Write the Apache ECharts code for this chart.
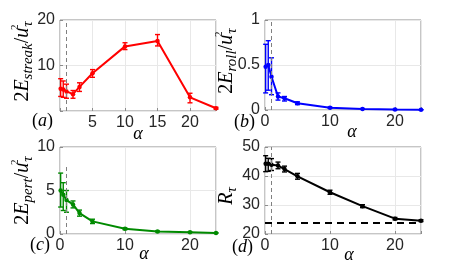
<!DOCTYPE html>
<html><head><meta charset="utf-8">
<script src="https://cdn.jsdelivr.net/npm/echarts@6/dist/echarts.min.js"></script>
<style>html,body{margin:0;padding:0;background:#fff}#c{width:465px;height:266px}</style>
</head><body><div id="c"></div>
<script>
// ---- data ----
const alpha = [0.1, 0.5, 1, 2, 3, 5, 10, 15, 20, 24];
const streak   = [4.9, 4.7, 4.3, 3.7, 5.3, 8.3, 14.2, 15.4, 3.0, 0.6];
const streakLo = [3.2, 3.0, 2.8, 2.8, 4.3, 7.4, 13.5, 14.3, 1.8, 0.4];
const streakHi = [7.1, 6.6, 5.9, 4.5, 6.2, 9.1, 15.0, 16.8, 3.9, 0.8];
const roll   = [0.48, 0.50, 0.37, 0.15, 0.13, 0.075, 0.026, 0.012, 0.005, 0.003];
const rollLo = [0.19, 0.22, 0.17, 0.11, 0.10, 0.06, 0.02, 0.008, 0.003, 0.002];
const rollHi = [0.73, 0.77, 0.58, 0.19, 0.15, 0.09, 0.032, 0.016, 0.007, 0.004];
const pert   = [5.0, 4.5, 3.9, 3.4, 2.4, 1.45, 0.6, 0.3, 0.2, 0.12];
const pertLo = [3.1, 2.7, 2.5, 3.0, 2.05, 1.2, 0.5, 0.25, 0.17, 0.1];
const pertHi = [7.0, 5.9, 5.0, 3.8, 2.75, 1.7, 0.7, 0.35, 0.23, 0.14];
const reTau   = [44.2, 44.2, 43.9, 43.6, 42.4, 39.9, 34.4, 29.6, 25.3, 24.6];
const reTauLo = [41.5, 41.6, 41.9, 42.5, 41.4, 38.9, 33.7, 29.1, 24.9, 24.3];
const reTauHi = [47.0, 46.1, 46.0, 44.8, 43.4, 40.9, 35.1, 30.1, 25.7, 24.9];
const reTauRef = 24;
const alphaMark = 1;
const pertMarkTop = 8;

// ---- helpers ----
const SERIF = 'Liberation Serif';
const SANS = 'Liberation Sans';
const rich = {
  n: {fontFamily: SERIF, fontSize: 20, fontStyle: 'normal', color: '#000', lineHeight: 26},
  i: {fontFamily: SERIF, fontSize: 20, fontStyle: 'italic', color: '#000', lineHeight: 26},
  s: {fontFamily: SERIF, fontSize: 15, fontStyle: 'italic', color: '#000', verticalAlign: 'bottom', lineHeight: 14},
  p: {fontFamily: SERIF, fontSize: 11, fontStyle: 'normal', color: '#000', verticalAlign: 'top', lineHeight: 12, width: 1}
};
function eLabel(sub) { return '{n|2}{i|E}{s|' + sub + '}{n|/}{i|u}{p|2}{s|τ}'; }

function errItem(color) {
  return function (params, api) {
    const x = api.value(0), lo = api.value(1), hi = api.value(2);
    const p1 = api.coord([x, lo]), p2 = api.coord([x, hi]);
    const w = 2.5;
    const style = {stroke: color, lineWidth: 1.4, fill: null};
    return {type: 'group', children: [
      {type: 'line', shape: {x1: p1[0], y1: p1[1], x2: p2[0], y2: p2[1]}, style: style},
      {type: 'line', shape: {x1: p1[0] - w, y1: p1[1], x2: p1[0] + w, y2: p1[1]}, style: style},
      {type: 'line', shape: {x1: p2[0] - w, y1: p2[1], x2: p2[0] + w, y2: p2[1]}, style: style}
    ]};
  };
}
const zip2 = (a, b) => a.map((v, i) => [v, b[i]]);
const zip3 = (a, b, c) => a.map((v, i) => [v, b[i], c[i]]);

const BOX = '#8c8c8c', GRIDC = '#e8e8e8', TXT = '#262626';
const grids = [
  {left: 60, top: 20, width: 156, height: 91},
  {left: 265, top: 20, width: 156, height: 90},
  {left: 60, top: 147, width: 156, height: 87},
  {left: 265, top: 147, width: 156, height: 87}
].map(g => Object.assign(g, {show: true, borderColor: BOX, borderWidth: 1, containLabel: false, outerBoundsMode: 'none'}));

function xAxis(idx, interval, hideZero, gap, shift) {
  return {
    type: 'value', gridIndex: idx, min: 0, max: 24, interval: interval,
    name: 'α', nameLocation: 'middle', nameGap: gap, nameMoveOverlap: false,
    nameTextStyle: {fontFamily: SERIF, fontStyle: 'italic', fontSize: 18, color: '#000', padding: [0, 0, 0, shift]},
    axisLine: {show: false},
    axisTick: {show: true, inside: true, length: 3, lineStyle: {color: BOX}},
    axisLabel: {fontFamily: SANS, fontSize: 16, color: TXT, margin: 4,
      formatter: v => ((hideZero && v === 0) || v % interval !== 0) ? '' : String(v)},
    splitLine: {show: true, lineStyle: {color: GRIDC, width: 1}}
  };
}
function yAxis(idx, min, max, interval, hideZero, name, gap, pad) {
  return {
    type: 'value', gridIndex: idx, min: min, max: max, interval: interval,
    name: name, nameLocation: 'middle', nameRotate: 90, nameGap: gap, nameMoveOverlap: false,
    nameTextStyle: {rich: rich, padding: pad},
    axisLine: {show: false},
    axisTick: {show: true, inside: true, length: 3, lineStyle: {color: BOX}},
    axisLabel: {fontFamily: SANS, fontSize: 16, color: TXT, margin: 5,
      formatter: v => (hideZero && v === 0) ? '' : String(v)},
    splitLine: {show: true, lineStyle: {color: GRIDC, width: 1}}
  };
}

const vMark = {silent: true, symbol: ['none', 'none'], label: {show: false},
  lineStyle: {color: '#808080', type: [4, 3], width: 1}, data: [{xAxis: alphaMark}]};

function panel(idx, color, ys, lo, hi, mark) {
  return [
    {type: 'custom', xAxisIndex: idx, yAxisIndex: idx, renderItem: errItem(color),
      data: zip3(alpha, lo, hi), encode: {x: 0, y: [1, 2]}, z: 3, silent: true},
    {type: 'line', xAxisIndex: idx, yAxisIndex: idx, data: zip2(alpha, ys),
      symbol: 'circle', symbolSize: 4.5, showSymbol: true,
      lineStyle: {color: color, width: 2}, itemStyle: {color: color}, z: 4, silent: true,
      markLine: mark}
  ];
}

const labelRich = {
  n: {fontFamily: SERIF, fontSize: 18, fontStyle: 'normal', fill: '#000'},
  i: {fontFamily: SERIF, fontSize: 18, fontStyle: 'italic', fill: '#000'}
};
function pLabel(ch, x, y) {
  return {type: 'text', left: x, top: y, silent: true,
    style: {text: '{n|(}{i|' + ch + '}{n|)}', rich: labelRich, fill: '#000'}};
}

const chart = echarts.init(document.getElementById('c'), null, {renderer: 'canvas'});
chart.setOption({
  animation: false,
  backgroundColor: '#fff',
  grid: grids,
  xAxis: [
    xAxis(0, 5, true, 14, 0),
    xAxis(1, 10, false, 13, 18),
    xAxis(2, 10, false, 11, 12),
    xAxis(3, 10, false, 12, 12)
  ],
  yAxis: [
    yAxis(0, 0, 20, 10, true, eLabel('streak'), 24, [0, 0, 0, 8]),
    yAxis(1, 0, 1, 0.5, false, eLabel('roll'), 25, [0, 0, 0, 8]),
    yAxis(2, 0, 10, 5, false, eLabel('pert'), 24, [0, 0, 0, 0]),
    yAxis(3, 20, 50, 10, false, '{i|R}{s|τ}', 25, [0, 11, 0, 0])
  ],
  series: [].concat(
    panel(0, '#ff0000', streak, streakLo, streakHi, vMark),
    panel(1, '#0000ff', roll, rollLo, rollHi, vMark),
    panel(2, '#008a00', pert, pertLo, pertHi, Object.assign({}, vMark,
      {data: [[{coord: [alphaMark, 0]}, {coord: [alphaMark, pertMarkTop]}]]})),
    panel(3, '#000000', reTau, reTauLo, reTauHi, {silent: true, symbol: ['none', 'none'], label: {show: false},
      data: [
        {xAxis: alphaMark, lineStyle: {color: '#808080', type: [4, 3], width: 1}},
        {yAxis: reTauRef, lineStyle: {color: '#000', type: [7, 5], width: 2}}
      ]})
  ),
  graphic: [
    pLabel('a', 32, 112),
    pLabel('b', 234, 113),
    pLabel('c', 30, 236),
    pLabel('d', 232, 238)
  ]
});
</script></body></html>
